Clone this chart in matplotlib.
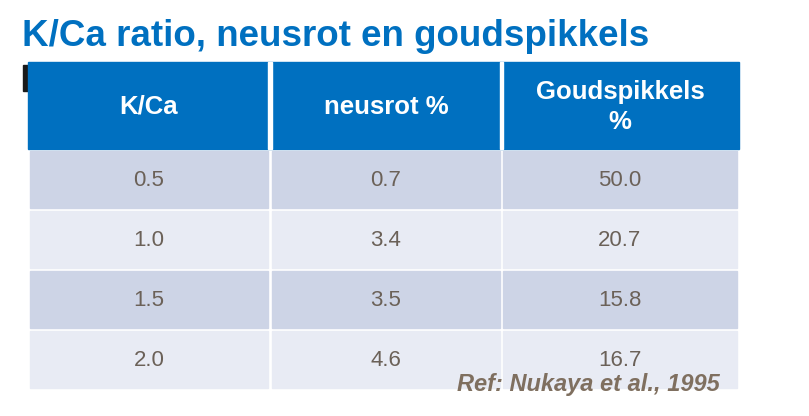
import matplotlib
matplotlib.use("Agg")
import matplotlib.pyplot as plt
from matplotlib.patches import Rectangle

title = "K/Ca ratio, neusrot en goudspikkels"
headers = ["K/Ca", "neusrot %", "Goudspikkels\n%"]
kca = ["0.5", "1.0", "1.5", "2.0"]
neusrot = ["0.7", "3.4", "3.5", "4.6"]
goud = ["50.0", "20.7", "15.8", "16.7"]
ref = "Ref: Nukaya et al., 1995"

fig = plt.figure(figsize=(8.09, 4.16), dpi=100)
ax = fig.add_axes([0, 0, 1, 1])
ax.set_xlim(0, 809); ax.set_ylim(416, 0); ax.axis("off")

fig.text(22/809, 1-37/416, title, color="#0070C0", fontsize=26.5, fontweight="bold",
         va="center", ha="left", family="Liberation Sans")
ax.add_patch(Rectangle((23, 65), 5, 26, color="#1a1a1a"))

cols = [(30, 268), (272, 500), (503, 737)]
ax.add_patch(Rectangle((28, 62), 711, 87, color="#0070C0"))
for (x0, x1), h in zip(cols, headers):
    ax.text((x0+x1)/2, 107, h, color="white", fontsize=18.5, fontweight="bold",
            ha="center", va="center", family="Liberation Sans", linespacing=1.35)
ax.add_patch(Rectangle((268, 62), 4, 87, color="white"))
ax.add_patch(Rectangle((500, 62), 3, 87, color="white"))

rows = list(zip(kca, neusrot, goud))
fills = ["#CDD4E6", "#E8EBF4"]
for i, r in enumerate(rows):
    y0 = 151 + i*60
    for j, ((x0, x1), v) in enumerate(zip(cols, r)):
        ax.add_patch(Rectangle((x0, y0), x1-x0, 57, color=fills[i % 2]))
        ax.text((x0+x1)/2, y0+29, v, color="#6B6158", fontsize=16,
                ha="center", va="center", family="Liberation Sans")

ax.text(720, 385, ref, color="#7F6F5F", fontsize=17, fontweight="bold", style="italic",
        ha="right", va="center", family="Liberation Sans")
fig.savefig("out.png", dpi=100)
